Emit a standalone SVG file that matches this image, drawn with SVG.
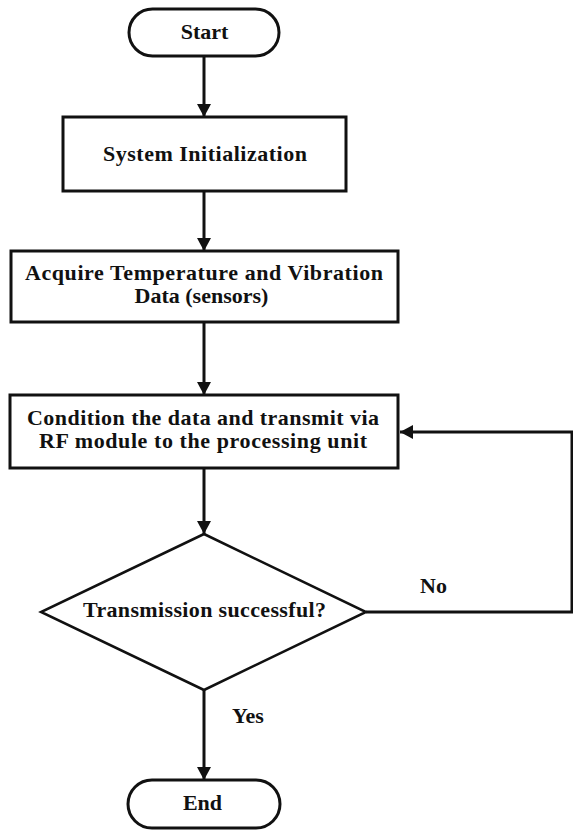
<svg xmlns="http://www.w3.org/2000/svg" width="573" height="832" viewBox="0 0 573 832">
  <defs>
    <style>
      .shape { fill: #ffffff; stroke: #111111; stroke-width: 3; }
      .dia { fill: #ffffff; stroke: #111111; stroke-width: 2.5; stroke-linejoin: miter; }
      .lbl { font-family: "Liberation Serif", "Times New Roman", serif; font-weight: bold; font-size: 22px; fill: #111111; text-anchor: middle; }
      .edge { fill: none; stroke: #111111; stroke-width: 3; }
    </style>
    <marker id="arrow" markerUnits="userSpaceOnUse" markerWidth="14" markerHeight="14" viewBox="0 0 14 14" refX="13" refY="7" orient="auto">
      <path d="M0,0 L13,7 L0,14 Z" fill="#111111"/>
    </marker>
  </defs>
  <rect x="0" y="0" width="573" height="832" fill="#ffffff"/>

  <g id="connectors">
    <line class="edge" x1="204" y1="56" x2="204" y2="117" marker-end="url(#arrow)"/>
    <line class="edge" x1="204" y1="192" x2="204" y2="251" marker-end="url(#arrow)"/>
    <line class="edge" x1="204" y1="322" x2="204" y2="395" marker-end="url(#arrow)"/>
    <line class="edge" x1="204" y1="468" x2="204" y2="534" marker-end="url(#arrow)"/>
    <line class="edge" x1="204" y1="690" x2="204" y2="780" marker-end="url(#arrow)"/>
    <polyline class="edge" points="366,612 572,612 572,432 400,432" marker-end="url(#arrow)"/>
    <text class="lbl" x="433.5" y="593">No</text>
    <text class="lbl" x="248" y="723">Yes</text>
  </g>

  <g id="start">
    <rect class="shape" x="129" y="9" width="150" height="47" rx="23.5" ry="23.5"/>
    <text class="lbl" x="204.5" y="39">Start</text>
  </g>

  <g id="init">
    <rect class="shape" x="63" y="117" width="283" height="74"/>
    <text class="lbl" x="205" y="161" textLength="204">System Initialization</text>
  </g>

  <g id="acquire">
    <rect class="shape" x="11" y="251" width="387" height="71"/>
    <text class="lbl" x="204" y="280" textLength="358">Acquire Temperature and Vibration</text>
    <text class="lbl" x="201.5" y="303">Data (sensors)</text>
  </g>

  <g id="transmit">
    <rect class="shape" x="10" y="395" width="388" height="73"/>
    <text class="lbl" x="203" y="425" textLength="352">Condition the data and transmit via</text>
    <text class="lbl" x="203" y="448" textLength="328">RF module to the processing unit</text>
  </g>

  <g id="decision">
    <polygon class="dia" points="204,534 366,612 204,690 41,612"/>
    <text class="lbl" x="204.5" y="617" textLength="243">Transmission successful?</text>
  </g>

  <g id="end">
    <rect class="shape" x="128" y="780" width="152" height="48" rx="24" ry="24"/>
    <text class="lbl" x="202.5" y="810">End</text>
  </g>
</svg>
